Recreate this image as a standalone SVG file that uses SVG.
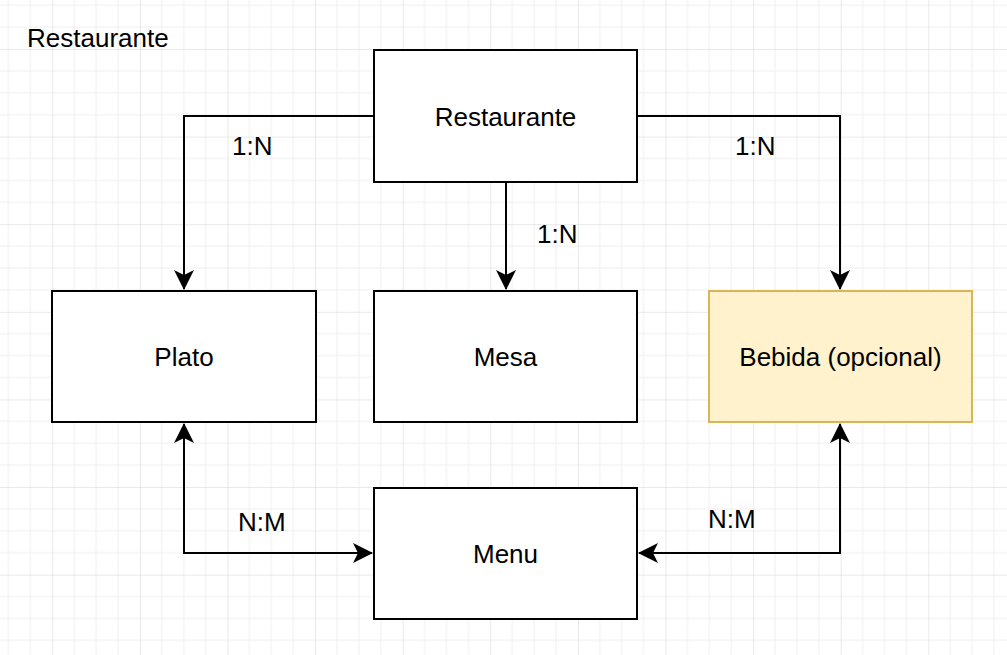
<svg xmlns="http://www.w3.org/2000/svg" width="1007" height="655" viewBox="0 0 1007 655">
  <style>
    .node { fill: #ffffff; stroke: #000000; stroke-width: 2; }
    .opt { fill: #fff2cc; stroke: #d6b656; stroke-width: 2; }
    .lbl { font-family: "Liberation Sans", Arial, sans-serif; font-size: 26px; fill: #000000; }
    .mid { text-anchor: middle; }
    .edge { fill: none; stroke: #000000; stroke-width: 2; }
  </style>
  <defs>
    <pattern id="grid" patternUnits="userSpaceOnUse" x="52.3" y="49" width="87.6" height="87.6">
      <path d="M21.9 0V87.6M43.8 0V87.6M65.7 0V87.6M0 21.9H87.6M0 43.8H87.6M0 65.7H87.6" stroke="#efefef" stroke-width="1" fill="none"/>
      <path d="M0 0V87.6M0 0H87.6" stroke="#d4d4d4" stroke-width="1" fill="none"/>
    </pattern>
    <marker id="arr" viewBox="0 0 20 20" refX="19" refY="10" markerWidth="20" markerHeight="20" markerUnits="userSpaceOnUse" orient="auto-start-reverse">
      <path d="M0 0L20 10L0 20L5 10Z" fill="#000000"/>
    </marker>
  </defs>
  <rect x="0" y="0" width="1007" height="655" fill="#ffffff"/>
  <rect x="0" y="0" width="1007" height="655" fill="url(#grid)"/>

  <g id="title">
    <text class="lbl" x="27" y="47">Restaurante</text>
  </g>

  <g id="connectors">
    <path class="edge" d="M374 116H184V289" marker-end="url(#arr)"/>
    <path class="edge" d="M506 182V289" marker-end="url(#arr)"/>
    <path class="edge" d="M637 116H840V289" marker-end="url(#arr)"/>
    <path class="edge" d="M184 424V553H372" marker-start="url(#arr)" marker-end="url(#arr)"/>
    <path class="edge" d="M840 424V553H639" marker-start="url(#arr)" marker-end="url(#arr)"/>
    <text class="lbl" x="232" y="155">1:N</text>
    <text class="lbl" x="537" y="243">1:N</text>
    <text class="lbl" x="735" y="155">1:N</text>
    <text class="lbl" x="238" y="531">N:M</text>
    <text class="lbl" x="708" y="528">N:M</text>
  </g>

  <g id="node-restaurante">
    <rect class="node" x="374" y="50" width="263" height="132"/>
    <text class="lbl mid" x="505.5" y="125.5">Restaurante</text>
  </g>
  <g id="node-plato">
    <rect class="node" x="52" y="291" width="264" height="131"/>
    <text class="lbl mid" x="184" y="366">Plato</text>
  </g>
  <g id="node-mesa">
    <rect class="node" x="374" y="291" width="263" height="131"/>
    <text class="lbl mid" x="505.5" y="366">Mesa</text>
  </g>
  <g id="node-bebida">
    <rect class="opt" x="709" y="291" width="263" height="131"/>
    <text class="lbl mid" x="840.5" y="366">Bebida (opcional)</text>
  </g>
  <g id="node-menu">
    <rect class="node" x="374" y="488" width="263" height="131"/>
    <text class="lbl mid" x="505.5" y="563">Menu</text>
  </g>
</svg>
